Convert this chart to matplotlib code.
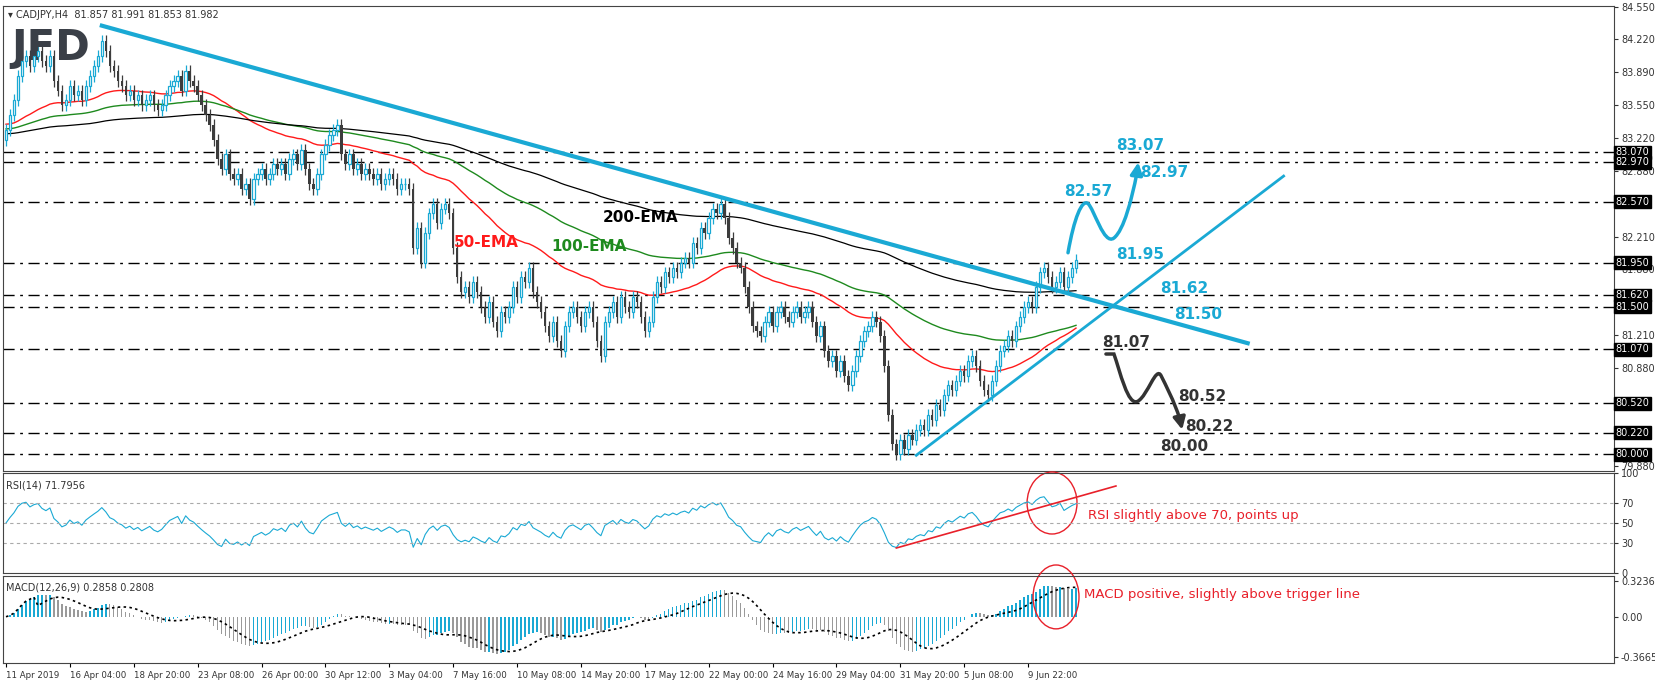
import numpy as np
import matplotlib.pyplot as plt
from matplotlib.patches import Ellipse, PathPatch
from matplotlib.path import Path
from matplotlib.transforms import blended_transform_factory

# H4 closes
closes = [
    83.30, 83.45, 83.60, 83.85, 84.00, 84.05, 83.95, 84.05, 84.10, 84.00,
    83.95, 84.05, 83.80, 83.70, 83.55, 83.60, 83.75, 83.65, 83.70, 83.60,
    83.75, 83.85, 83.95, 84.05, 84.20, 84.10, 83.95, 83.90, 83.80, 83.75,
    83.65, 83.70, 83.60, 83.65, 83.55, 83.60, 83.65, 83.55, 83.50, 83.55,
    83.65, 83.75, 83.80, 83.85, 83.70, 83.90, 83.80, 83.75, 83.65, 83.55,
    83.45, 83.35, 83.20, 83.00, 82.90, 83.05, 82.85, 82.80, 82.85, 82.70,
    82.75, 82.60, 82.80, 82.85, 82.90, 82.80, 82.85, 82.95, 82.90, 82.95,
    82.85, 83.00, 83.05, 82.95, 83.10, 82.90, 82.75, 82.70, 82.85, 83.05,
    83.15, 83.25, 83.30, 83.35, 83.05, 82.95, 83.05, 82.90, 82.95, 82.85,
    82.90, 82.85, 82.80, 82.85, 82.75, 82.80, 82.85, 82.80, 82.70, 82.75,
    82.75, 82.70, 82.10, 82.30, 81.95, 82.25, 82.45, 82.55, 82.35, 82.50,
    82.55, 82.45, 82.10, 81.80, 81.65, 81.70, 81.60, 81.75, 81.65, 81.50,
    81.40, 81.55, 81.35, 81.25, 81.45, 81.40, 81.50, 81.70, 81.60, 81.80,
    81.75, 81.90, 81.65, 81.55, 81.45, 81.30, 81.20, 81.35, 81.15, 81.05,
    81.30, 81.45, 81.50, 81.40, 81.30, 81.45, 81.50, 81.35, 81.15, 81.00,
    81.35, 81.45, 81.55, 81.40, 81.60, 81.50, 81.45, 81.60, 81.55, 81.40,
    81.25, 81.35, 81.60, 81.75, 81.70, 81.85, 81.80, 81.90, 81.85, 81.95,
    82.00, 81.95, 82.15, 82.10, 82.30, 82.25, 82.40, 82.50, 82.45, 82.55,
    82.40, 82.20, 82.10, 81.95, 81.90, 81.70, 81.50, 81.30, 81.25, 81.20,
    81.35, 81.45, 81.30, 81.45, 81.50, 81.40, 81.35, 81.45, 81.50, 81.40,
    81.45, 81.50, 81.35, 81.20, 81.30, 81.05, 80.95, 81.00, 80.85, 80.95,
    80.80, 80.70, 80.85, 81.00, 81.15, 81.25, 81.30, 81.40, 81.35, 81.20,
    80.90, 80.40, 80.10, 80.00, 80.15, 80.05, 80.20, 80.15, 80.25, 80.30,
    80.25, 80.40, 80.35, 80.50, 80.45, 80.60, 80.70, 80.65, 80.75, 80.85,
    80.80, 80.95, 81.00, 80.90, 80.75, 80.65, 80.60, 80.75, 80.90, 81.05,
    81.10, 81.20, 81.15, 81.30, 81.40, 81.50, 81.55, 81.50, 81.70, 81.85,
    81.90, 81.80, 81.70, 81.75, 81.85, 81.70, 81.80, 81.90, 81.98,
]
first_open = 83.20
wick = 0.06
ema_seeds = {50: 83.36, 100: 83.31, 200: 83.26}

levels = [83.07, 82.97, 82.57, 81.95, 81.62, 81.50, 81.07, 80.52, 80.22, 80.00]
price_ticks = [84.55, 84.22, 83.89, 83.55, 83.22, 82.88, 82.21, 81.88, 81.21, 80.88, 79.88]
date_labels = ['11 Apr 2019', '16 Apr 04:00', '18 Apr 20:00', '23 Apr 08:00', '26 Apr 00:00',
               '30 Apr 12:00', '3 May 04:00', '7 May 16:00', '10 May 08:00', '14 May 20:00',
               '17 May 12:00', '22 May 00:00', '24 May 16:00', '29 May 04:00', '31 May 20:00',
               '5 Jun 08:00', '9 Jun 22:00']

# trend lines (bar index, price)
down_line = ([24, 311], [84.36, 81.13])
up_line = ([228, 320], [79.99, 82.83])
# scenario curves: start point then cubic bezier triples (bar index, price)
bull_curve = [(266, 82.05),
              (267.5, 82.40), (269.5, 82.60), (271, 82.55),
              (272.5, 82.50), (275, 82.12), (277.5, 82.20),
              (280, 82.28), (282, 82.60), (283.2, 82.85)]
bull_tip = (283.6, 82.97)
bear_curve = [(275.5, 81.02),
              (276.5, 81.02), (277, 81.02), (277.5, 81.02),
              (279, 80.85), (281, 80.48), (283.5, 80.54),
              (286, 80.60), (288, 80.90), (289.3, 80.80),
              (290.5, 80.70), (292.5, 80.55), (294, 80.36)]
bear_tip = (294.6, 80.25)
level_texts = [(284, 83.14, '83.07', 'c'), (290, 82.87, '82.97', 'c'), (271, 82.67, '82.57', 'c'),
               (284, 82.03, '81.95', 'c'), (295, 81.69, '81.62', 'c'), (298.5, 81.42, '81.50', 'c'),
               (280.5, 81.14, '81.07', 'k'), (299.5, 80.59, '80.52', 'k'), (301.5, 80.28, '80.22', 'k'),
               (295, 80.08, '80.00', 'k')]

CYAN = '#1aa9d4'
DARK = '#3c3c3c'

c = np.array(closes)
o = np.concatenate([[first_open], c[:-1]])
n = len(c)
x = np.arange(n)
hi = np.maximum(o, c) + wick
lo = np.minimum(o, c) - wick


def ema(values, period, seed):
    a = 2.0 / (period + 1)
    out = np.zeros(len(values))
    prev = seed
    for i, v in enumerate(values):
        prev = prev + a * (v - prev)
        out[i] = prev
    return out


def rsi(values, period=14):
    ag, al = 0.05, 0.05
    out = np.zeros(len(values))
    prev = values[0]
    for i, v in enumerate(values):
        d = v - prev
        prev = v
        ag = (ag * (period - 1) + max(d, 0)) / period
        al = (al * (period - 1) + max(-d, 0)) / period
        out[i] = 100 - 100 / (1 + ag / al)
    return out


def draw_curve(axis, pts, tip, color):
    codes = [Path.MOVETO] + [Path.CURVE4] * (len(pts) - 1)
    axis.add_patch(PathPatch(Path(pts, codes), fill=False, ec=color, lw=2.5, zorder=6, capstyle='round'))
    axis.annotate('', xy=tip, xytext=pts[-1],
                  arrowprops=dict(arrowstyle='-|>', color=color, lw=2.5, mutation_scale=18,
                                  shrinkA=0, shrinkB=0))


fig = plt.figure(figsize=(16.55, 6.84), dpi=100)
L, W = 3 / 1655, 1611 / 1655
ax = fig.add_axes([L, 1 - 471 / 684, W, 465 / 684])
ax_r = fig.add_axes([L, 1 - 573 / 684, W, 100 / 684])
ax_m = fig.add_axes([L, 1 - 663 / 684, W, 87 / 684])

for a in (ax, ax_r, ax_m):
    a.set_xlim(-0.75, 402.75)
    a.yaxis.tick_right()
    a.tick_params(axis='y', labelsize=7, colors='#333333', length=3, pad=2)
    a.tick_params(axis='x', length=0)
    a.set_xticklabels([])
    for s in a.spines.values():
        s.set_color('#444444')

# candles
up = c >= o
ax.vlines(x, lo, hi, colors=np.where(up, CYAN, DARK), lw=0.9, zorder=3)
ax.bar(x[up], (c - o)[up], bottom=o[up], width=0.6, facecolor='white', edgecolor=CYAN, lw=0.9, zorder=4)
ax.bar(x[~up], (o - c)[~up], bottom=c[~up], width=0.6, color=DARK, lw=0, zorder=4)

ax.plot(x, ema(c, 50, ema_seeds[50]), color='#ff1a1a', lw=1)
ax.plot(x, ema(c, 100, ema_seeds[100]), color='#1e8a1e', lw=1)
ax.plot(x, ema(c, 200, ema_seeds[200]), color='black', lw=0.9)

for lv in levels:
    ax.axhline(lv, color='black', lw=1, ls=(0, (8, 4, 2, 4)), zorder=1)

ax.plot(*down_line, color=CYAN, lw=3, zorder=5)
ax.plot(*up_line, color=CYAN, lw=2, zorder=5)
draw_curve(ax, bull_curve, bull_tip, CYAN)
draw_curve(ax, bear_curve, bear_tip, '#333333')
for tx, ty, s, col in level_texts:
    ax.text(tx, ty, s, color=CYAN if col == 'c' else '#333333', fontsize=11, fontweight='bold',
            ha='center', va='center', zorder=7)

ax.text(159, 82.41, '200-EMA', color='black', fontsize=11, fontweight='bold', ha='center', va='center')
ax.text(120.4, 82.15, '50-EMA', color='#ff1a1a', fontsize=11, fontweight='bold', ha='center', va='center')
ax.text(146, 82.11, '100-EMA', color='#1e8a1e', fontsize=11, fontweight='bold', ha='center', va='center')

ax.set_ylim(79.83, 84.56)
ax.set_yticks(price_ticks)
ax.set_yticklabels(['%.3f' % t for t in price_ticks])
tr = blended_transform_factory(ax.transAxes, ax.transData)
for lv in levels:
    ax.text(1.001, lv, '%.3f' % lv, transform=tr, fontsize=7, color='white', va='center', ha='left',
            bbox=dict(boxstyle='square,pad=0.15', fc='black', ec='black'), zorder=10, clip_on=False)

ax.text(0.003, 0.992, '\u25be CADJPY,H4  81.857 81.991 81.853 81.982', transform=ax.transAxes,
        fontsize=7, color='#333333', va='top')
ax.text(0.005, 0.955, 'JFD', transform=ax.transAxes, fontsize=30, fontweight='bold',
        color='#3a3f47', va='top')

# RSI
r = rsi(c)
ax_r.plot(x, r, color=CYAN, lw=0.8)
for lv in (30, 50, 70):
    ax_r.axhline(lv, color='#aaaaaa', lw=0.8, ls=(0, (3, 3)))
ax_r.set_ylim(0, 100)
ax_r.set_yticks([0, 30, 50, 70, 100])
ax_r.plot([223, 278], [25, 87], color='#e8202a', lw=1.2)
ax_r.add_patch(Ellipse((262, 70), 12.5, 62, fill=False, ec='#e8202a', lw=1, clip_on=False))
ax_r.text(271, 57, 'RSI slightly above 70, points up', color='#e8202a', fontsize=9.5, va='center')
ax_r.text(0.002, 0.93, 'RSI(14) 71.7956', transform=ax_r.transAxes, fontsize=7, color='#333333', va='top')

# MACD
m = ema(c, 12, c[0]) - ema(c, 26, c[0])
sig = np.convolve(m, np.ones(9) / 9, mode='full')[:n]
sig[:8] = m[:8]
rising = np.concatenate([[True], np.diff(m) >= 0])
ax_m.bar(x, m, width=0.35, color=np.where(rising, CYAN, '#9a9a9a'))
ax_m.plot(x, sig, color='black', lw=1.2, ls=(0, (1.5, 2)))
ax_m.set_ylim(-0.42, 0.37)
ax_m.set_yticks([-0.3665, 0.0, 0.3236])
ax_m.set_yticklabels(['-0.3665', '0.00', '0.3236'])
ax_m.add_patch(Ellipse((263, 0.18), 11.5, 0.58, fill=False, ec='#e8202a', lw=1, clip_on=False))
ax_m.text(270, 0.2, 'MACD positive, slightly above trigger line', color='#e8202a', fontsize=9.5, va='center')
ax_m.text(0.002, 0.93, 'MACD(12,26,9) 0.2858 0.2808', transform=ax_m.transAxes, fontsize=7,
          color='#333333', va='top')
ax_m.set_xticks(np.arange(len(date_labels)) * 16)
ax_m.set_xticklabels(date_labels, fontsize=6.2, color='#333333', ha='left')
ax_m.tick_params(axis='x', length=3, pad=3)

fig.savefig('out.png', dpi=100)
